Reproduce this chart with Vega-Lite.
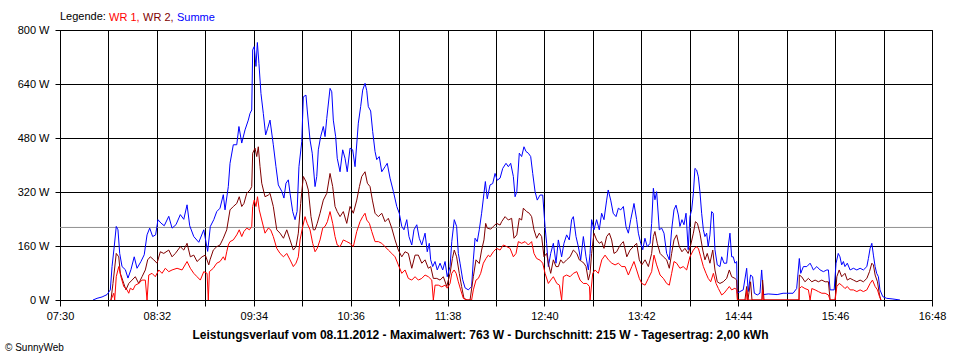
{
"$schema":"https://vega.github.io/schema/vega-lite/v6.json",
"autosize":"none",
"width":872,"height":270,
"padding":{"left":60,"top":30,"right":28,"bottom":60},
"background":"white",
"config":{"view":{"stroke":"black","strokeWidth":1},
"axis":{"domainColor":"black","gridColor":"black","gridOpacity":1,"gridWidth":1,"tickColor":"black","labelColor":"black","labelFont":"Liberation Sans","labelFontSize":11,"titleColor":"black"}},
"title":{"text":"© SunnyWeb","orient":"bottom","anchor":"start","frame":"group","font":"Liberation Sans","fontSize":10,"fontWeight":"normal","color":"black","dx":-55,"offset":3},
"layer":[
{"data":{"values":[{"avg":215}]},"mark":{"type":"rule","color":"#909090","strokeWidth":1},"encoding":{"y":{"field":"avg","type":"quantitative"}}},
{"data":{"values":[
{"t":471.1,"s":"Summe","w":0},{"t":473.7,"s":"Summe","w":5},{"t":476.9,"s":"Summe","w":9},{"t":480.1,"s":"Summe","w":16},{"t":482.2,"s":"Summe","w":30},{"t":483.3,"s":"Summe","w":99},{"t":484.7,"s":"Summe","w":158},{"t":486.0,"s":"Summe","w":218},{"t":487.1,"s":"Summe","w":208},{"t":488.2,"s":"Summe","w":138},{"t":489.7,"s":"Summe","w":99},{"t":491.8,"s":"Summe","w":90},{"t":493.5,"s":"Summe","w":65},{"t":495.4,"s":"Summe","w":90},{"t":497.5,"s":"Summe","w":128},{"t":499.3,"s":"Summe","w":94},{"t":501.8,"s":"Summe","w":114},{"t":503.9,"s":"Summe","w":134},{"t":505.7,"s":"Summe","w":193},{"t":507.4,"s":"Summe","w":213},{"t":509.3,"s":"Summe","w":188},{"t":511.2,"s":"Summe","w":193},{"t":512.7,"s":"Summe","w":238},{"t":514.6,"s":"Summe","w":228},{"t":516.7,"s":"Summe","w":220},{"t":519.6,"s":"Summe","w":248},{"t":521.7,"s":"Summe","w":213},{"t":524.2,"s":"Summe","w":223},{"t":527.0,"s":"Summe","w":253},{"t":529.2,"s":"Summe","w":239},{"t":531.3,"s":"Summe","w":282},{"t":533.0,"s":"Summe","w":220},{"t":535.6,"s":"Summe","w":188},{"t":538.8,"s":"Summe","w":171},{"t":542.0,"s":"Summe","w":208},{"t":544.5,"s":"Summe","w":144},{"t":546.2,"s":"Summe","w":218},{"t":548.4,"s":"Summe","w":238},{"t":550.3,"s":"Summe","w":262},{"t":552.4,"s":"Summe","w":272},{"t":554.5,"s":"Summe","w":312},{"t":555.6,"s":"Summe","w":267},{"t":557.7,"s":"Summe","w":336},{"t":558.8,"s":"Summe","w":405},{"t":560.9,"s":"Summe","w":460},{"t":563.1,"s":"Summe","w":460},{"t":564.5,"s":"Summe","w":514},{"t":566.3,"s":"Summe","w":465},{"t":568.4,"s":"Summe","w":504},{"t":570.5,"s":"Summe","w":533},{"t":571.6,"s":"Summe","w":553},{"t":572.7,"s":"Summe","w":563},{"t":573.3,"s":"Summe","w":741},{"t":574.3,"s":"Summe","w":751},{"t":575.4,"s":"Summe","w":692},{"t":576.3,"s":"Summe","w":763},{"t":577.3,"s":"Summe","w":701},{"t":578.6,"s":"Summe","w":612},{"t":580.1,"s":"Summe","w":553},{"t":581.6,"s":"Summe","w":489},{"t":582.9,"s":"Summe","w":509},{"t":584.4,"s":"Summe","w":533},{"t":586.5,"s":"Summe","w":460},{"t":588.2,"s":"Summe","w":395},{"t":589.7,"s":"Summe","w":341},{"t":591.9,"s":"Summe","w":322},{"t":593.3,"s":"Summe","w":302},{"t":594.6,"s":"Summe","w":346},{"t":596.1,"s":"Summe","w":356},{"t":597.2,"s":"Summe","w":316},{"t":598.9,"s":"Summe","w":262},{"t":600.4,"s":"Summe","w":238},{"t":601.7,"s":"Summe","w":262},{"t":602.9,"s":"Summe","w":395},{"t":604.7,"s":"Summe","w":469},{"t":605.7,"s":"Summe","w":602},{"t":607.4,"s":"Summe","w":607},{"t":608.2,"s":"Summe","w":563},{"t":610.0,"s":"Summe","w":474},{"t":611.4,"s":"Summe","w":435},{"t":613.2,"s":"Summe","w":336},{"t":614.3,"s":"Summe","w":366},{"t":615.3,"s":"Summe","w":445},{"t":616.8,"s":"Summe","w":484},{"t":618.5,"s":"Summe","w":514},{"t":619.6,"s":"Summe","w":484},{"t":620.7,"s":"Summe","w":538},{"t":622.8,"s":"Summe","w":627},{"t":623.9,"s":"Summe","w":617},{"t":624.9,"s":"Summe","w":533},{"t":626.4,"s":"Summe","w":484},{"t":627.4,"s":"Summe","w":420},{"t":629.2,"s":"Summe","w":380},{"t":630.9,"s":"Summe","w":445},{"t":632.4,"s":"Summe","w":420},{"t":633.8,"s":"Summe","w":380},{"t":635.6,"s":"Summe","w":450},{"t":637.3,"s":"Summe","w":445},{"t":638.8,"s":"Summe","w":395},{"t":640.9,"s":"Summe","w":524},{"t":642.4,"s":"Summe","w":573},{"t":643.7,"s":"Summe","w":622},{"t":645.2,"s":"Summe","w":642},{"t":646.3,"s":"Summe","w":620},{"t":647.3,"s":"Summe","w":573},{"t":648.8,"s":"Summe","w":560},{"t":650.1,"s":"Summe","w":499},{"t":651.6,"s":"Summe","w":440},{"t":652.7,"s":"Summe","w":416},{"t":654.3,"s":"Summe","w":425},{"t":655.9,"s":"Summe","w":380},{"t":658.0,"s":"Summe","w":395},{"t":659.4,"s":"Summe","w":405},{"t":661.2,"s":"Summe","w":361},{"t":663.3,"s":"Summe","w":322},{"t":665.5,"s":"Summe","w":277},{"t":667.1,"s":"Summe","w":257},{"t":668.7,"s":"Summe","w":218},{"t":670.1,"s":"Summe","w":208},{"t":671.9,"s":"Summe","w":238},{"t":673.3,"s":"Summe","w":188},{"t":675.1,"s":"Summe","w":163},{"t":676.5,"s":"Summe","w":208},{"t":678.3,"s":"Summe","w":223},{"t":679.9,"s":"Summe","w":183},{"t":681.5,"s":"Summe","w":163},{"t":683.6,"s":"Summe","w":198},{"t":685.0,"s":"Summe","w":143},{"t":686.3,"s":"Summe","w":168},{"t":687.2,"s":"Summe","w":119},{"t":688.5,"s":"Summe","w":99},{"t":690.0,"s":"Summe","w":114},{"t":691.4,"s":"Summe","w":89},{"t":693.2,"s":"Summe","w":109},{"t":694.9,"s":"Summe","w":89},{"t":696.4,"s":"Summe","w":114},{"t":697.8,"s":"Summe","w":69},{"t":699.6,"s":"Summe","w":99},{"t":700.7,"s":"Summe","w":173},{"t":702.3,"s":"Summe","w":238},{"t":703.8,"s":"Summe","w":218},{"t":704.9,"s":"Summe","w":138},{"t":706.0,"s":"Summe","w":109},{"t":707.7,"s":"Summe","w":60},{"t":709.2,"s":"Summe","w":36},{"t":711.3,"s":"Summe","w":30},{"t":713.4,"s":"Summe","w":40},{"t":714.5,"s":"Summe","w":119},{"t":715.6,"s":"Summe","w":183},{"t":717.0,"s":"Summe","w":173},{"t":718.3,"s":"Summe","w":208},{"t":719.8,"s":"Summe","w":257},{"t":721.3,"s":"Summe","w":316},{"t":722.2,"s":"Summe","w":351},{"t":723.4,"s":"Summe","w":300},{"t":725.2,"s":"Summe","w":341},{"t":726.9,"s":"Summe","w":345},{"t":728.4,"s":"Summe","w":375},{"t":729.8,"s":"Summe","w":355},{"t":731.6,"s":"Summe","w":361},{"t":733.3,"s":"Summe","w":390},{"t":735.4,"s":"Summe","w":405},{"t":736.9,"s":"Summe","w":395},{"t":738.4,"s":"Summe","w":405},{"t":740.1,"s":"Summe","w":366},{"t":741.2,"s":"Summe","w":306},{"t":742.3,"s":"Summe","w":321},{"t":743.9,"s":"Summe","w":435},{"t":745.4,"s":"Summe","w":425},{"t":746.9,"s":"Summe","w":454},{"t":748.2,"s":"Summe","w":440},{"t":749.7,"s":"Summe","w":435},{"t":751.2,"s":"Summe","w":425},{"t":752.5,"s":"Summe","w":375},{"t":754.0,"s":"Summe","w":321},{"t":755.4,"s":"Summe","w":296},{"t":757.2,"s":"Summe","w":311},{"t":758.9,"s":"Summe","w":311},{"t":760.4,"s":"Summe","w":217},{"t":761.4,"s":"Summe","w":168},{"t":762.5,"s":"Summe","w":99},{"t":764.0,"s":"Summe","w":138},{"t":765.7,"s":"Summe","w":168},{"t":767.4,"s":"Summe","w":109},{"t":768.9,"s":"Summe","w":178},{"t":771.0,"s":"Summe","w":128},{"t":772.5,"s":"Summe","w":168},{"t":774.2,"s":"Summe","w":193},{"t":775.9,"s":"Summe","w":178},{"t":777.4,"s":"Summe","w":238},{"t":778.5,"s":"Summe","w":247},{"t":780.2,"s":"Summe","w":188},{"t":781.7,"s":"Summe","w":158},{"t":783.2,"s":"Summe","w":119},{"t":784.9,"s":"Summe","w":188},{"t":786.6,"s":"Summe","w":128},{"t":788.1,"s":"Summe","w":89},{"t":789.2,"s":"Summe","w":138},{"t":790.2,"s":"Summe","w":238},{"t":791.7,"s":"Summe","w":208},{"t":793.4,"s":"Summe","w":238},{"t":795.1,"s":"Summe","w":208},{"t":796.6,"s":"Summe","w":257},{"t":798.1,"s":"Summe","w":238},{"t":799.8,"s":"Summe","w":296},{"t":800.8,"s":"Summe","w":326},{"t":802.4,"s":"Summe","w":296},{"t":804.0,"s":"Summe","w":257},{"t":805.8,"s":"Summe","w":247},{"t":807.3,"s":"Summe","w":272},{"t":808.8,"s":"Summe","w":267},{"t":810.5,"s":"Summe","w":277},{"t":812.2,"s":"Summe","w":217},{"t":813.7,"s":"Summe","w":198},{"t":815.2,"s":"Summe","w":238},{"t":816.5,"s":"Summe","w":267},{"t":817.3,"s":"Summe","w":286},{"t":819.0,"s":"Summe","w":238},{"t":820.1,"s":"Summe","w":198},{"t":821.6,"s":"Summe","w":168},{"t":822.9,"s":"Summe","w":149},{"t":824.3,"s":"Summe","w":183},{"t":825.8,"s":"Summe","w":158},{"t":827.6,"s":"Summe","w":168},{"t":828.6,"s":"Summe","w":227},{"t":829.7,"s":"Summe","w":331},{"t":830.7,"s":"Summe","w":297},{"t":831.8,"s":"Summe","w":321},{"t":833.5,"s":"Summe","w":208},{"t":835.0,"s":"Summe","w":213},{"t":836.5,"s":"Summe","w":198},{"t":838.2,"s":"Summe","w":138},{"t":839.9,"s":"Summe","w":119},{"t":841.4,"s":"Summe","w":208},{"t":842.9,"s":"Summe","w":267},{"t":844.2,"s":"Summe","w":281},{"t":845.7,"s":"Summe","w":252},{"t":846.7,"s":"Summe","w":218},{"t":848.0,"s":"Summe","w":238},{"t":849.3,"s":"Summe","w":223},{"t":850.6,"s":"Summe","w":257},{"t":852.0,"s":"Summe","w":149},{"t":853.1,"s":"Summe","w":247},{"t":854.2,"s":"Summe","w":267},{"t":855.3,"s":"Summe","w":316},{"t":856.3,"s":"Summe","w":390},{"t":857.4,"s":"Summe","w":385},{"t":858.5,"s":"Summe","w":365},{"t":859.5,"s":"Summe","w":321},{"t":860.6,"s":"Summe","w":257},{"t":861.7,"s":"Summe","w":208},{"t":862.7,"s":"Summe","w":188},{"t":863.8,"s":"Summe","w":198},{"t":864.8,"s":"Summe","w":158},{"t":865.9,"s":"Summe","w":193},{"t":867.0,"s":"Summe","w":262},{"t":868.0,"s":"Summe","w":257},{"t":869.1,"s":"Summe","w":149},{"t":870.6,"s":"Summe","w":104},{"t":872.3,"s":"Summe","w":99},{"t":873.4,"s":"Summe","w":128},{"t":874.9,"s":"Summe","w":109},{"t":876.6,"s":"Summe","w":109},{"t":877.6,"s":"Summe","w":158},{"t":878.7,"s":"Summe","w":198},{"t":879.8,"s":"Summe","w":128},{"t":880.8,"s":"Summe","w":128},{"t":881.9,"s":"Summe","w":109},{"t":883.0,"s":"Summe","w":114},{"t":883.4,"s":"Summe","w":20},{"t":885.1,"s":"Summe","w":25},{"t":887.2,"s":"Summe","w":30},{"t":889.4,"s":"Summe","w":94},{"t":890.4,"s":"Summe","w":25},{"t":891.9,"s":"Summe","w":74},{"t":893.2,"s":"Summe","w":69},{"t":894.3,"s":"Summe","w":20},{"t":896.2,"s":"Summe","w":15},{"t":897.9,"s":"Summe","w":20},{"t":899.0,"s":"Summe","w":89},{"t":900.1,"s":"Summe","w":16},{"t":903.2,"s":"Summe","w":18},{"t":908.9,"s":"Summe","w":16},{"t":912.7,"s":"Summe","w":20},{"t":915.0,"s":"Summe","w":20},{"t":919.1,"s":"Summe","w":20},{"t":921.4,"s":"Summe","w":34},{"t":923.1,"s":"Summe","w":123},{"t":924.0,"s":"Summe","w":79},{"t":925.7,"s":"Summe","w":99},{"t":927.9,"s":"Summe","w":99},{"t":930.0,"s":"Summe","w":109},{"t":931.1,"s":"Summe","w":99},{"t":932.1,"s":"Summe","w":89},{"t":934.3,"s":"Summe","w":99},{"t":936.4,"s":"Summe","w":89},{"t":938.5,"s":"Summe","w":84},{"t":940.7,"s":"Summe","w":89},{"t":941.7,"s":"Summe","w":89},{"t":942.8,"s":"Summe","w":30},{"t":945.4,"s":"Summe","w":30},{"t":946.6,"s":"Summe","w":109},{"t":948.0,"s":"Summe","w":138},{"t":949.1,"s":"Summe","w":128},{"t":950.2,"s":"Summe","w":104},{"t":951.3,"s":"Summe","w":114},{"t":952.3,"s":"Summe","w":99},{"t":953.8,"s":"Summe","w":109},{"t":955.6,"s":"Summe","w":89},{"t":957.7,"s":"Summe","w":94},{"t":959.9,"s":"Summe","w":89},{"t":962.0,"s":"Summe","w":94},{"t":964.1,"s":"Summe","w":89},{"t":966.3,"s":"Summe","w":99},{"t":967.3,"s":"Summe","w":123},{"t":968.4,"s":"Summe","w":153},{"t":969.5,"s":"Summe","w":168},{"t":970.5,"s":"Summe","w":133},{"t":971.6,"s":"Summe","w":99},{"t":972.6,"s":"Summe","w":79},{"t":973.7,"s":"Summe","w":69},{"t":974.7,"s":"Summe","w":30},{"t":976.5,"s":"Summe","w":10},{"t":979.0,"s":"Summe","w":5},{"t":983.0,"s":"Summe","w":3},{"t":987.5,"s":"Summe","w":0},
{"t":482.6,"s":"WR 2","w":0},{"t":483.9,"s":"WR 2","w":49},{"t":486.0,"s":"WR 2","w":138},{"t":487.6,"s":"WR 2","w":128},{"t":488.6,"s":"WR 2","w":79},{"t":490.8,"s":"WR 2","w":49},{"t":492.2,"s":"WR 2","w":30},{"t":494.0,"s":"WR 2","w":49},{"t":496.1,"s":"WR 2","w":59},{"t":498.2,"s":"WR 2","w":69},{"t":500.4,"s":"WR 2","w":49},{"t":502.5,"s":"WR 2","w":69},{"t":504.6,"s":"WR 2","w":89},{"t":506.1,"s":"WR 2","w":119},{"t":507.8,"s":"WR 2","w":128},{"t":510.0,"s":"WR 2","w":119},{"t":512.1,"s":"WR 2","w":109},{"t":514.2,"s":"WR 2","w":143},{"t":516.4,"s":"WR 2","w":138},{"t":519.6,"s":"WR 2","w":148},{"t":521.7,"s":"WR 2","w":128},{"t":523.8,"s":"WR 2","w":138},{"t":527.0,"s":"WR 2","w":158},{"t":529.2,"s":"WR 2","w":148},{"t":531.3,"s":"WR 2","w":168},{"t":533.4,"s":"WR 2","w":128},{"t":535.6,"s":"WR 2","w":133},{"t":537.7,"s":"WR 2","w":114},{"t":540.9,"s":"WR 2","w":128},{"t":543.0,"s":"WR 2","w":133},{"t":545.2,"s":"WR 2","w":104},{"t":546.0,"s":"WR 2","w":119},{"t":548.1,"s":"WR 2","w":148},{"t":550.3,"s":"WR 2","w":158},{"t":552.4,"s":"WR 2","w":163},{"t":554.5,"s":"WR 2","w":183},{"t":556.7,"s":"WR 2","w":208},{"t":558.8,"s":"WR 2","w":267},{"t":560.9,"s":"WR 2","w":277},{"t":563.1,"s":"WR 2","w":286},{"t":564.7,"s":"WR 2","w":306},{"t":566.3,"s":"WR 2","w":277},{"t":567.7,"s":"WR 2","w":286},{"t":569.5,"s":"WR 2","w":316},{"t":571.6,"s":"WR 2","w":326},{"t":572.7,"s":"WR 2","w":336},{"t":573.3,"s":"WR 2","w":435},{"t":574.8,"s":"WR 2","w":450},{"t":575.9,"s":"WR 2","w":425},{"t":576.9,"s":"WR 2","w":454},{"t":578.0,"s":"WR 2","w":395},{"t":579.1,"s":"WR 2","w":346},{"t":581.2,"s":"WR 2","w":306},{"t":583.3,"s":"WR 2","w":311},{"t":584.4,"s":"WR 2","w":316},{"t":586.5,"s":"WR 2","w":277},{"t":588.7,"s":"WR 2","w":208},{"t":590.8,"s":"WR 2","w":198},{"t":593.0,"s":"WR 2","w":183},{"t":595.1,"s":"WR 2","w":208},{"t":597.2,"s":"WR 2","w":178},{"t":599.3,"s":"WR 2","w":148},{"t":601.0,"s":"WR 2","w":158},{"t":602.5,"s":"WR 2","w":198},{"t":604.0,"s":"WR 2","w":286},{"t":605.7,"s":"WR 2","w":366},{"t":607.4,"s":"WR 2","w":351},{"t":608.9,"s":"WR 2","w":326},{"t":610.6,"s":"WR 2","w":247},{"t":612.1,"s":"WR 2","w":208},{"t":613.2,"s":"WR 2","w":208},{"t":614.6,"s":"WR 2","w":227},{"t":616.4,"s":"WR 2","w":257},{"t":618.5,"s":"WR 2","w":296},{"t":620.7,"s":"WR 2","w":316},{"t":622.8,"s":"WR 2","w":375},{"t":624.5,"s":"WR 2","w":336},{"t":626.0,"s":"WR 2","w":277},{"t":627.4,"s":"WR 2","w":262},{"t":629.2,"s":"WR 2","w":247},{"t":631.3,"s":"WR 2","w":262},{"t":633.5,"s":"WR 2","w":227},{"t":635.6,"s":"WR 2","w":277},{"t":637.7,"s":"WR 2","w":257},{"t":639.9,"s":"WR 2","w":296},{"t":641.6,"s":"WR 2","w":336},{"t":643.1,"s":"WR 2","w":366},{"t":645.2,"s":"WR 2","w":380},{"t":646.7,"s":"WR 2","w":346},{"t":648.4,"s":"WR 2","w":336},{"t":649.9,"s":"WR 2","w":296},{"t":651.6,"s":"WR 2","w":257},{"t":653.7,"s":"WR 2","w":247},{"t":655.9,"s":"WR 2","w":257},{"t":658.0,"s":"WR 2","w":232},{"t":660.1,"s":"WR 2","w":242},{"t":662.3,"s":"WR 2","w":213},{"t":664.4,"s":"WR 2","w":178},{"t":666.5,"s":"WR 2","w":148},{"t":668.7,"s":"WR 2","w":128},{"t":670.8,"s":"WR 2","w":143},{"t":672.9,"s":"WR 2","w":138},{"t":675.1,"s":"WR 2","w":94},{"t":677.2,"s":"WR 2","w":133},{"t":679.3,"s":"WR 2","w":133},{"t":681.5,"s":"WR 2","w":109},{"t":683.6,"s":"WR 2","w":119},{"t":685.7,"s":"WR 2","w":94},{"t":687.2,"s":"WR 2","w":99},{"t":688.9,"s":"WR 2","w":64},{"t":691.1,"s":"WR 2","w":64},{"t":693.2,"s":"WR 2","w":59},{"t":695.3,"s":"WR 2","w":69},{"t":697.5,"s":"WR 2","w":40},{"t":699.6,"s":"WR 2","w":79},{"t":701.1,"s":"WR 2","w":123},{"t":702.3,"s":"WR 2","w":148},{"t":703.8,"s":"WR 2","w":128},{"t":705.5,"s":"WR 2","w":79},{"t":707.0,"s":"WR 2","w":40},{"t":708.5,"s":"WR 2","w":5},{"t":710.4,"s":"WR 2","w":0},{"t":712.4,"s":"WR 2","w":0},{"t":714.5,"s":"WR 2","w":69},{"t":716.2,"s":"WR 2","w":119},{"t":718.3,"s":"WR 2","w":108},{"t":719.8,"s":"WR 2","w":148},{"t":721.3,"s":"WR 2","w":178},{"t":722.4,"s":"WR 2","w":227},{"t":723.4,"s":"WR 2","w":213},{"t":725.6,"s":"WR 2","w":210},{"t":727.3,"s":"WR 2","w":218},{"t":729.4,"s":"WR 2","w":227},{"t":731.6,"s":"WR 2","w":222},{"t":732.6,"s":"WR 2","w":232},{"t":734.8,"s":"WR 2","w":247},{"t":736.9,"s":"WR 2","w":237},{"t":739.0,"s":"WR 2","w":242},{"t":740.5,"s":"WR 2","w":183},{"t":742.3,"s":"WR 2","w":193},{"t":743.9,"s":"WR 2","w":242},{"t":745.4,"s":"WR 2","w":237},{"t":746.5,"s":"WR 2","w":272},{"t":748.6,"s":"WR 2","w":262},{"t":750.3,"s":"WR 2","w":257},{"t":751.8,"s":"WR 2","w":247},{"t":753.3,"s":"WR 2","w":208},{"t":755.0,"s":"WR 2","w":183},{"t":756.7,"s":"WR 2","w":198},{"t":758.2,"s":"WR 2","w":188},{"t":759.7,"s":"WR 2","w":128},{"t":761.4,"s":"WR 2","w":138},{"t":762.5,"s":"WR 2","w":109},{"t":764.0,"s":"WR 2","w":79},{"t":765.7,"s":"WR 2","w":119},{"t":767.4,"s":"WR 2","w":99},{"t":768.9,"s":"WR 2","w":99},{"t":770.4,"s":"WR 2","w":119},{"t":772.1,"s":"WR 2","w":109},{"t":774.2,"s":"WR 2","w":119},{"t":776.4,"s":"WR 2","w":128},{"t":778.5,"s":"WR 2","w":148},{"t":780.7,"s":"WR 2","w":138},{"t":782.3,"s":"WR 2","w":119},{"t":783.9,"s":"WR 2","w":114},{"t":785.3,"s":"WR 2","w":109},{"t":786.6,"s":"WR 2","w":99},{"t":788.1,"s":"WR 2","w":59},{"t":789.2,"s":"WR 2","w":79},{"t":790.2,"s":"WR 2","w":138},{"t":791.7,"s":"WR 2","w":198},{"t":793.4,"s":"WR 2","w":178},{"t":795.1,"s":"WR 2","w":168},{"t":796.6,"s":"WR 2","w":173},{"t":798.1,"s":"WR 2","w":153},{"t":799.8,"s":"WR 2","w":188},{"t":801.5,"s":"WR 2","w":198},{"t":803.0,"s":"WR 2","w":178},{"t":804.5,"s":"WR 2","w":138},{"t":806.2,"s":"WR 2","w":143},{"t":807.9,"s":"WR 2","w":158},{"t":809.4,"s":"WR 2","w":168},{"t":810.5,"s":"WR 2","w":173},{"t":812.7,"s":"WR 2","w":128},{"t":814.8,"s":"WR 2","w":148},{"t":816.9,"s":"WR 2","w":158},{"t":819.0,"s":"WR 2","w":168},{"t":820.7,"s":"WR 2","w":119},{"t":822.3,"s":"WR 2","w":104},{"t":824.4,"s":"WR 2","w":119},{"t":826.5,"s":"WR 2","w":99},{"t":828.6,"s":"WR 2","w":138},{"t":829.7,"s":"WR 2","w":188},{"t":830.7,"s":"WR 2","w":203},{"t":832.2,"s":"WR 2","w":168},{"t":834.0,"s":"WR 2","w":138},{"t":836.1,"s":"WR 2","w":128},{"t":838.2,"s":"WR 2","w":119},{"t":839.9,"s":"WR 2","w":94},{"t":841.4,"s":"WR 2","w":138},{"t":842.9,"s":"WR 2","w":178},{"t":844.6,"s":"WR 2","w":193},{"t":846.3,"s":"WR 2","w":158},{"t":848.0,"s":"WR 2","w":143},{"t":849.9,"s":"WR 2","w":153},{"t":852.0,"s":"WR 2","w":138},{"t":853.6,"s":"WR 2","w":163},{"t":855.3,"s":"WR 2","w":198},{"t":856.6,"s":"WR 2","w":232},{"t":857.9,"s":"WR 2","w":227},{"t":859.5,"s":"WR 2","w":198},{"t":861.3,"s":"WR 2","w":148},{"t":862.7,"s":"WR 2","w":119},{"t":864.2,"s":"WR 2","w":138},{"t":865.9,"s":"WR 2","w":109},{"t":867.7,"s":"WR 2","w":148},{"t":869.1,"s":"WR 2","w":89},{"t":870.6,"s":"WR 2","w":54},{"t":872.3,"s":"WR 2","w":49},{"t":874.4,"s":"WR 2","w":54},{"t":876.6,"s":"WR 2","w":64},{"t":878.3,"s":"WR 2","w":89},{"t":879.8,"s":"WR 2","w":69},{"t":881.9,"s":"WR 2","w":64},{"t":883.0,"s":"WR 2","w":59},{"t":883.5,"s":"WR 2","w":0},{"t":888.3,"s":"WR 2","w":0},{"t":889.4,"s":"WR 2","w":40},{"t":890.2,"s":"WR 2","w":0},{"t":891.9,"s":"WR 2","w":54},{"t":892.8,"s":"WR 2","w":0},{"t":899.2,"s":"WR 2","w":0},{"t":899.6,"s":"WR 2","w":59},{"t":900.5,"s":"WR 2","w":0},{"t":922.9,"s":"WR 2","w":0},{"t":923.1,"s":"WR 2","w":74},{"t":924.6,"s":"WR 2","w":69},{"t":926.7,"s":"WR 2","w":54},{"t":928.9,"s":"WR 2","w":64},{"t":931.1,"s":"WR 2","w":54},{"t":933.2,"s":"WR 2","w":59},{"t":935.3,"s":"WR 2","w":54},{"t":937.5,"s":"WR 2","w":59},{"t":939.6,"s":"WR 2","w":54},{"t":941.7,"s":"WR 2","w":54},{"t":942.8,"s":"WR 2","w":0},{"t":946.0,"s":"WR 2","w":0},{"t":947.1,"s":"WR 2","w":69},{"t":948.6,"s":"WR 2","w":89},{"t":950.2,"s":"WR 2","w":69},{"t":952.3,"s":"WR 2","w":79},{"t":953.8,"s":"WR 2","w":59},{"t":955.6,"s":"WR 2","w":64},{"t":957.7,"s":"WR 2","w":59},{"t":959.9,"s":"WR 2","w":54},{"t":962.0,"s":"WR 2","w":59},{"t":964.1,"s":"WR 2","w":54},{"t":966.3,"s":"WR 2","w":64},{"t":968.0,"s":"WR 2","w":84},{"t":969.5,"s":"WR 2","w":109},{"t":970.5,"s":"WR 2","w":104},{"t":971.6,"s":"WR 2","w":74},{"t":973.1,"s":"WR 2","w":54},{"t":974.4,"s":"WR 2","w":15},{"t":975.3,"s":"WR 2","w":0},
{"t":482.6,"s":"WR 1","w":0},{"t":484.4,"s":"WR 1","w":20},{"t":485.0,"s":"WR 1","w":0},{"t":486.0,"s":"WR 1","w":69},{"t":487.6,"s":"WR 1","w":99},{"t":489.0,"s":"WR 1","w":69},{"t":490.8,"s":"WR 1","w":40},{"t":492.9,"s":"WR 1","w":30},{"t":494.0,"s":"WR 1","w":20},{"t":495.0,"s":"WR 1","w":35},{"t":496.7,"s":"WR 1","w":30},{"t":498.2,"s":"WR 1","w":44},{"t":500.4,"s":"WR 1","w":49},{"t":502.5,"s":"WR 1","w":59},{"t":504.6,"s":"WR 1","w":59},{"t":505.7,"s":"WR 1","w":0},{"t":506.8,"s":"WR 1","w":74},{"t":508.9,"s":"WR 1","w":79},{"t":511.0,"s":"WR 1","w":69},{"t":513.2,"s":"WR 1","w":89},{"t":515.3,"s":"WR 1","w":79},{"t":517.4,"s":"WR 1","w":94},{"t":519.6,"s":"WR 1","w":84},{"t":521.7,"s":"WR 1","w":89},{"t":524.9,"s":"WR 1","w":94},{"t":528.1,"s":"WR 1","w":89},{"t":531.3,"s":"WR 1","w":114},{"t":533.4,"s":"WR 1","w":94},{"t":535.6,"s":"WR 1","w":79},{"t":537.7,"s":"WR 1","w":69},{"t":539.8,"s":"WR 1","w":59},{"t":542.0,"s":"WR 1","w":84},{"t":544.1,"s":"WR 1","w":79},{"t":544.9,"s":"WR 1","w":0},{"t":545.6,"s":"WR 1","w":84},{"t":548.1,"s":"WR 1","w":94},{"t":550.3,"s":"WR 1","w":109},{"t":552.4,"s":"WR 1","w":114},{"t":554.5,"s":"WR 1","w":128},{"t":555.6,"s":"WR 1","w":118},{"t":556.7,"s":"WR 1","w":143},{"t":557.7,"s":"WR 1","w":163},{"t":558.8,"s":"WR 1","w":173},{"t":560.9,"s":"WR 1","w":178},{"t":563.1,"s":"WR 1","w":193},{"t":564.7,"s":"WR 1","w":208},{"t":566.3,"s":"WR 1","w":188},{"t":567.7,"s":"WR 1","w":203},{"t":569.5,"s":"WR 1","w":213},{"t":571.2,"s":"WR 1","w":208},{"t":572.7,"s":"WR 1","w":218},{"t":573.3,"s":"WR 1","w":277},{"t":574.3,"s":"WR 1","w":296},{"t":575.4,"s":"WR 1","w":277},{"t":576.4,"s":"WR 1","w":306},{"t":577.5,"s":"WR 1","w":267},{"t":579.1,"s":"WR 1","w":237},{"t":581.2,"s":"WR 1","w":198},{"t":583.3,"s":"WR 1","w":213},{"t":584.8,"s":"WR 1","w":208},{"t":586.5,"s":"WR 1","w":188},{"t":588.7,"s":"WR 1","w":153},{"t":590.8,"s":"WR 1","w":138},{"t":593.0,"s":"WR 1","w":128},{"t":595.1,"s":"WR 1","w":138},{"t":597.2,"s":"WR 1","w":119},{"t":599.3,"s":"WR 1","w":99},{"t":601.0,"s":"WR 1","w":109},{"t":602.5,"s":"WR 1","w":128},{"t":603.6,"s":"WR 1","w":178},{"t":605.3,"s":"WR 1","w":217},{"t":606.8,"s":"WR 1","w":247},{"t":608.2,"s":"WR 1","w":227},{"t":610.0,"s":"WR 1","w":208},{"t":611.7,"s":"WR 1","w":168},{"t":613.2,"s":"WR 1","w":143},{"t":614.6,"s":"WR 1","w":153},{"t":616.4,"s":"WR 1","w":178},{"t":618.1,"s":"WR 1","w":213},{"t":619.6,"s":"WR 1","w":218},{"t":621.1,"s":"WR 1","w":232},{"t":622.8,"s":"WR 1","w":262},{"t":624.5,"s":"WR 1","w":227},{"t":626.0,"s":"WR 1","w":188},{"t":627.4,"s":"WR 1","w":163},{"t":629.2,"s":"WR 1","w":158},{"t":631.3,"s":"WR 1","w":178},{"t":633.5,"s":"WR 1","w":173},{"t":635.6,"s":"WR 1","w":168},{"t":637.7,"s":"WR 1","w":158},{"t":639.9,"s":"WR 1","w":203},{"t":642.0,"s":"WR 1","w":232},{"t":643.7,"s":"WR 1","w":247},{"t":645.2,"s":"WR 1","w":257},{"t":646.3,"s":"WR 1","w":237},{"t":648.0,"s":"WR 1","w":227},{"t":649.5,"s":"WR 1","w":203},{"t":651.6,"s":"WR 1","w":173},{"t":653.7,"s":"WR 1","w":173},{"t":655.9,"s":"WR 1","w":168},{"t":658.0,"s":"WR 1","w":158},{"t":660.1,"s":"WR 1","w":148},{"t":662.3,"s":"WR 1","w":138},{"t":664.4,"s":"WR 1","w":128},{"t":666.5,"s":"WR 1","w":104},{"t":668.7,"s":"WR 1","w":79},{"t":670.8,"s":"WR 1","w":89},{"t":672.9,"s":"WR 1","w":64},{"t":675.1,"s":"WR 1","w":59},{"t":677.2,"s":"WR 1","w":69},{"t":679.3,"s":"WR 1","w":59},{"t":681.5,"s":"WR 1","w":64},{"t":683.6,"s":"WR 1","w":74},{"t":685.7,"s":"WR 1","w":69},{"t":687.9,"s":"WR 1","w":59},{"t":688.9,"s":"WR 1","w":0},{"t":690.0,"s":"WR 1","w":44},{"t":692.1,"s":"WR 1","w":44},{"t":694.3,"s":"WR 1","w":39},{"t":696.4,"s":"WR 1","w":44},{"t":697.8,"s":"WR 1","w":35},{"t":699.6,"s":"WR 1","w":49},{"t":700.7,"s":"WR 1","w":79},{"t":702.2,"s":"WR 1","w":89},{"t":703.5,"s":"WR 1","w":79},{"t":704.9,"s":"WR 1","w":54},{"t":706.4,"s":"WR 1","w":30},{"t":708.1,"s":"WR 1","w":5},{"t":710.4,"s":"WR 1","w":0},{"t":713.4,"s":"WR 1","w":0},{"t":714.5,"s":"WR 1","w":30},{"t":716.2,"s":"WR 1","w":59},{"t":717.7,"s":"WR 1","w":64},{"t":719.2,"s":"WR 1","w":79},{"t":720.9,"s":"WR 1","w":109},{"t":722.6,"s":"WR 1","w":123},{"t":724.1,"s":"WR 1","w":133},{"t":725.2,"s":"WR 1","w":128},{"t":727.3,"s":"WR 1","w":143},{"t":729.4,"s":"WR 1","w":153},{"t":731.6,"s":"WR 1","w":148},{"t":733.7,"s":"WR 1","w":163},{"t":735.9,"s":"WR 1","w":158},{"t":738.0,"s":"WR 1","w":153},{"t":740.1,"s":"WR 1","w":128},{"t":741.8,"s":"WR 1","w":138},{"t":743.3,"s":"WR 1","w":173},{"t":745.4,"s":"WR 1","w":168},{"t":747.6,"s":"WR 1","w":173},{"t":749.7,"s":"WR 1","w":163},{"t":751.8,"s":"WR 1","w":173},{"t":753.3,"s":"WR 1","w":138},{"t":755.0,"s":"WR 1","w":123},{"t":757.2,"s":"WR 1","w":118},{"t":758.9,"s":"WR 1","w":109},{"t":760.4,"s":"WR 1","w":79},{"t":762.5,"s":"WR 1","w":49},{"t":764.0,"s":"WR 1","w":59},{"t":765.7,"s":"WR 1","w":69},{"t":767.9,"s":"WR 1","w":49},{"t":769.6,"s":"WR 1","w":44},{"t":771.0,"s":"WR 1","w":0},{"t":772.1,"s":"WR 1","w":69},{"t":774.2,"s":"WR 1","w":74},{"t":776.4,"s":"WR 1","w":69},{"t":778.5,"s":"WR 1","w":79},{"t":780.7,"s":"WR 1","w":84},{"t":782.8,"s":"WR 1","w":59},{"t":784.9,"s":"WR 1","w":49},{"t":787.1,"s":"WR 1","w":49},{"t":788.8,"s":"WR 1","w":40},{"t":789.2,"s":"WR 1","w":0},{"t":790.9,"s":"WR 1","w":79},{"t":792.4,"s":"WR 1","w":89},{"t":794.5,"s":"WR 1","w":79},{"t":796.7,"s":"WR 1","w":119},{"t":798.8,"s":"WR 1","w":133},{"t":800.9,"s":"WR 1","w":119},{"t":803.1,"s":"WR 1","w":109},{"t":805.2,"s":"WR 1","w":104},{"t":807.3,"s":"WR 1","w":109},{"t":809.5,"s":"WR 1","w":99},{"t":811.6,"s":"WR 1","w":99},{"t":813.7,"s":"WR 1","w":74},{"t":815.9,"s":"WR 1","w":99},{"t":817.3,"s":"WR 1","w":114},{"t":819.0,"s":"WR 1","w":89},{"t":820.7,"s":"WR 1","w":64},{"t":822.3,"s":"WR 1","w":49},{"t":824.4,"s":"WR 1","w":44},{"t":826.5,"s":"WR 1","w":64},{"t":828.6,"s":"WR 1","w":84},{"t":830.1,"s":"WR 1","w":133},{"t":831.8,"s":"WR 1","w":104},{"t":834.0,"s":"WR 1","w":74},{"t":836.1,"s":"WR 1","w":64},{"t":838.2,"s":"WR 1","w":49},{"t":839.9,"s":"WR 1","w":44},{"t":841.4,"s":"WR 1","w":79},{"t":842.9,"s":"WR 1","w":114},{"t":844.6,"s":"WR 1","w":109},{"t":846.7,"s":"WR 1","w":94},{"t":848.8,"s":"WR 1","w":99},{"t":851.0,"s":"WR 1","w":89},{"t":853.1,"s":"WR 1","w":128},{"t":855.3,"s":"WR 1","w":148},{"t":857.0,"s":"WR 1","w":158},{"t":858.5,"s":"WR 1","w":153},{"t":860.0,"s":"WR 1","w":128},{"t":861.7,"s":"WR 1","w":99},{"t":863.4,"s":"WR 1","w":79},{"t":864.8,"s":"WR 1","w":64},{"t":866.4,"s":"WR 1","w":54},{"t":868.1,"s":"WR 1","w":79},{"t":869.8,"s":"WR 1","w":49},{"t":871.3,"s":"WR 1","w":34},{"t":873.4,"s":"WR 1","w":15},{"t":874.9,"s":"WR 1","w":20},{"t":876.6,"s":"WR 1","w":30},{"t":878.3,"s":"WR 1","w":40},{"t":879.8,"s":"WR 1","w":30},{"t":881.9,"s":"WR 1","w":35},{"t":883.0,"s":"WR 1","w":30},{"t":883.5,"s":"WR 1","w":0},{"t":889.0,"s":"WR 1","w":0},{"t":889.4,"s":"WR 1","w":30},{"t":890.2,"s":"WR 1","w":0},{"t":899.2,"s":"WR 1","w":0},{"t":899.6,"s":"WR 1","w":30},{"t":900.1,"s":"WR 1","w":0},{"t":922.9,"s":"WR 1","w":0},{"t":923.1,"s":"WR 1","w":34},{"t":924.6,"s":"WR 1","w":40},{"t":926.7,"s":"WR 1","w":34},{"t":928.9,"s":"WR 1","w":30},{"t":930.0,"s":"WR 1","w":0},{"t":931.1,"s":"WR 1","w":34},{"t":933.2,"s":"WR 1","w":30},{"t":935.3,"s":"WR 1","w":25},{"t":937.5,"s":"WR 1","w":20},{"t":939.6,"s":"WR 1","w":20},{"t":941.7,"s":"WR 1","w":15},{"t":942.8,"s":"WR 1","w":0},{"t":946.0,"s":"WR 1","w":0},{"t":947.1,"s":"WR 1","w":40},{"t":948.6,"s":"WR 1","w":49},{"t":950.2,"s":"WR 1","w":44},{"t":952.3,"s":"WR 1","w":34},{"t":953.8,"s":"WR 1","w":40},{"t":955.6,"s":"WR 1","w":30},{"t":957.7,"s":"WR 1","w":30},{"t":959.9,"s":"WR 1","w":25},{"t":962.0,"s":"WR 1","w":30},{"t":964.1,"s":"WR 1","w":25},{"t":966.3,"s":"WR 1","w":30},{"t":968.4,"s":"WR 1","w":49},{"t":969.9,"s":"WR 1","w":59},{"t":971.6,"s":"WR 1","w":40},{"t":973.1,"s":"WR 1","w":30},{"t":974.4,"s":"WR 1","w":10},{"t":975.3,"s":"WR 1","w":0}
]},
"mark":{"type":"line","strokeWidth":1,"clip":true},
"encoding":{
"x":{"field":"t","type":"quantitative","scale":{"domain":[450,1008],"nice":false,"zero":false},
"axis":{"values":[450,481,512,543,574,605,636,667,698,729,760,791,822,853,884,915,946,977,1008],"labelExpr":"(datum.value - 450) % 62 == 0 ? (floor(datum.value/60) < 10 ? '0' : '') + floor(datum.value/60) + ':' + (datum.value % 60 < 10 ? '0' : '') + (datum.value % 60) : ''","grid":true,"tickSize":6,"labelPadding":4,"labelOverlap":false,"labelFlush":false,"title":"Leistungsverlauf vom 08.11.2012 - Maximalwert: 763 W - Durchschnitt: 215 W - Tagesertrag: 2,00 kWh","titleFont":"Liberation Sans","titleFontSize":12,"titleFontWeight":"bold","titlePadding":8,"titleX":420}},
"y":{"field":"w","type":"quantitative","scale":{"domain":[0,800],"nice":false},
"axis":{"values":[0,160,320,480,640,800],"labelExpr":"datum.value + ' W'","grid":true,"tickSize":5,"labelPadding":6,"title":null}},
"color":{"field":"s","type":"nominal","scale":{"domain":["WR 1","WR 2","Summe"],"range":["#ff0000","#800000","#0000ff"]},
"legend":{"orient":"none","legendX":0,"legendY":-18,"direction":"horizontal","title":"Legende:","titleOrient":"left","titleFont":"Liberation Sans","titleFontSize":11,"titleFontWeight":"normal","titleColor":"black","titlePadding":3,"labelFont":"Liberation Sans","labelFontSize":11,"symbolType":"circle","symbolSize":0,"symbolOpacity":0,"symbolStrokeWidth":0,"labelOffset":-11,"columnPadding":3,"labelExpr":"datum.label + (datum.label == 'Summe' ? '' : ',')","encode":{"labels":{"update":{"fill":{"scale":"color","field":"value"}}}}}},
"order":{"field":"t","type":"quantitative"}
}}
]}
